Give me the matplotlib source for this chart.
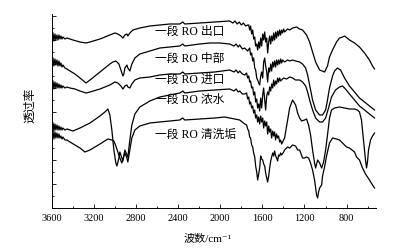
import matplotlib
matplotlib.use("Agg")
import matplotlib.pyplot as plt
from matplotlib.ticker import MultipleLocator

# FTIR spectra of RO membrane fouling, transmittance in arbitrary units (stacked)
wn_outlet = [3591, 3582, 3572, 3563, 3553, 3543, 3534, 3524, 3515, 3505, 3496, 3477, 3458, 3429, 3401,
             3334, 3277, 3239, 3144, 3050, 3002, 2974, 2945, 2926, 2907, 2888, 2879, 2860, 2831, 2765,
             2670, 2575, 2480, 2385, 2357, 2338, 2195, 2053, 1911, 1880, 1860, 1840, 1820, 1800, 1780,
             1760, 1740, 1730, 1721, 1712, 1702, 1692, 1683, 1673, 1664, 1654, 1645, 1635, 1626, 1616,
             1607, 1597, 1588, 1578, 1569, 1559, 1550, 1540, 1531, 1521, 1512, 1502, 1493, 1484, 1474,
             1465, 1455, 1446, 1436, 1427, 1417, 1408, 1398, 1389, 1360, 1341, 1313, 1275, 1246, 1218,
             1180, 1151, 1123, 1094, 1056, 1009, 981, 962, 933, 895, 867, 838, 819, 772, 724, 677, 629,
             582, 553, 534]
t_outlet = [175, 167, 174, 168, 173, 168, 173, 169, 172, 169, 171, 169, 170, 169, 168,
            166, 165, 166, 169, 173, 175, 174, 172, 170, 173, 174, 172, 175, 178, 180,
            182, 183, 184, 184, 186, 184, 185, 186, 187, 185, 187, 184, 186, 183, 185,
            182, 183, 183, 178, 182, 174, 178, 169, 171, 162, 164, 158, 166, 160, 170,
            162, 174, 168, 176, 166, 170, 155, 166, 172, 164, 172, 167, 175, 168, 176,
            170, 177, 172, 178, 173, 178, 175, 179, 176, 179, 178, 180, 181, 179, 178,
            173, 166, 156, 146, 138, 136, 142, 151, 158, 166, 170, 171, 172, 168, 165, 161, 155,
            148, 142, 139]

wn_middle = [3591, 3582, 3572, 3563, 3553, 3543, 3534, 3524, 3515, 3505, 3496, 3477, 3458, 3429, 3382,
             3334, 3277, 3239, 3144, 3050, 3021, 2993, 2964, 2945, 2926, 2917, 2907, 2888, 2879, 2860,
             2841, 2812, 2765, 2670, 2575, 2480, 2385, 2357, 2338, 2195, 2100, 2006, 1911, 1870, 1850,
             1830, 1816, 1790, 1768, 1740, 1721, 1712, 1702, 1692, 1683, 1673, 1664, 1654, 1645, 1635,
             1626, 1616, 1607, 1597, 1588, 1578, 1569, 1559, 1550, 1540, 1531, 1521, 1512, 1502, 1493,
             1484, 1474, 1465, 1455, 1446, 1436, 1427, 1417, 1408, 1389, 1360, 1341, 1313, 1284, 1246,
             1218, 1189, 1170, 1151, 1123, 1094, 1056, 1028, 999, 981, 962, 933, 914, 886, 857, 819,
             772, 724, 677, 629, 582, 534]
t_middle = [150, 142, 149, 143, 148, 142, 147, 142, 145, 141, 143, 140, 139, 137, 134,
            130, 125, 128, 136, 144, 146, 147, 144, 138, 132, 134, 140, 143, 140, 137,
            144, 150, 154, 157, 160, 161, 162, 164, 162, 164, 165, 165, 164, 162, 164,
            161, 163, 159, 160, 157, 160, 153, 155, 147, 150, 140, 138, 130, 128, 125,
            123, 132, 136, 130, 146, 150, 142, 136, 126, 140, 136, 144, 137, 146, 141,
            147, 141, 148, 143, 148, 144, 149, 145, 148, 146, 148, 147, 148, 147, 146,
            144, 140, 133, 123, 108, 98, 93, 93, 98, 108, 120, 132, 137, 140, 138, 130,
            122, 116, 110, 106, 102, 98]

wn_inlet = [3591, 3582, 3572, 3563, 3553, 3543, 3534, 3524, 3515, 3505, 3496, 3477, 3458, 3429, 3382,
            3334, 3277, 3239, 3144, 3050, 3002, 2974, 2945, 2926, 2907, 2888, 2879, 2860, 2841, 2812,
            2765, 2670, 2575, 2480, 2385, 2357, 2338, 2195, 2053, 1911, 1870, 1850, 1830, 1816, 1790,
            1768, 1750, 1740, 1730, 1721, 1712, 1702, 1692, 1683, 1673, 1664, 1654, 1645, 1635, 1626,
            1616, 1607, 1597, 1588, 1578, 1569, 1559, 1550, 1540, 1531, 1521, 1512, 1502, 1493, 1484,
            1474, 1465, 1455, 1446, 1436, 1427, 1398, 1370, 1341, 1313, 1284, 1246, 1218, 1189, 1170,
            1151, 1123, 1094, 1056, 1028, 999, 971, 943, 905, 867, 838, 810, 772, 724, 677, 629, 582, 534]
t_inlet = [127, 119, 126, 120, 125, 120, 124, 120, 123, 120, 122, 120, 121, 120, 119,
           117, 115, 116, 119, 123, 126, 125, 122, 119, 122, 123, 121, 120, 124, 128,
           130, 131, 133, 134, 134, 136, 134, 135, 136, 138, 136, 138, 135, 137, 134,
           133, 135, 130, 132, 126, 127, 120, 121, 113, 116, 106, 109, 100, 104, 97,
           110, 100, 113, 120, 108, 98, 112, 116, 113, 121, 117, 124, 120, 128, 122,
           127, 124, 130, 126, 130, 127, 130, 129, 131, 130, 128, 128, 126, 122, 116,
           108, 98, 90, 86, 86, 90, 100, 111, 118, 121, 122, 119, 114, 108, 102, 98, 94, 90]

wn_brine = [3591, 3582, 3572, 3563, 3553, 3543, 3534, 3524, 3515, 3505, 3496, 3477, 3458, 3429, 3401,
            3334, 3239, 3144, 3097, 3069, 3050, 3031, 3012, 2993, 2983, 2964, 2955, 2936, 2926, 2907,
            2888, 2879, 2860, 2841, 2812, 2765, 2670, 2575, 2480, 2385, 2357, 2338, 2195, 2053, 1911,
            1870, 1850, 1830, 1816, 1790, 1768, 1750, 1740, 1730, 1721, 1712, 1702, 1692, 1683, 1673,
            1664, 1654, 1645, 1635, 1626, 1616, 1607, 1597, 1588, 1578, 1569, 1559, 1550, 1540, 1531,
            1521, 1512, 1502, 1493, 1484, 1474, 1465, 1455, 1446, 1436, 1427, 1417, 1389, 1360, 1341,
            1313, 1284, 1265, 1246, 1227, 1199, 1180, 1161, 1142, 1123, 1104, 1094, 1075, 1056, 1037,
            1018, 999, 981, 962, 943, 914, 867, 819, 772, 724, 696, 677, 658, 639, 620, 610, 601, 591,
            572, 553, 534]
t_brine = [85, 77, 84, 78, 83, 78, 82, 78, 81, 78, 80, 78, 79, 78, 77,
           80, 85, 92, 96, 99, 93, 78, 58, 45, 42, 50, 56, 50, 47, 58,
           53, 51, 68, 83, 94, 101, 107, 111, 113, 115, 117, 115, 117, 118, 119,
           117, 119, 116, 117, 114, 114, 115, 109, 111, 104, 106, 100, 102, 95, 98,
           90, 93, 86, 91, 84, 92, 86, 90, 80, 87, 82, 86, 74, 82, 76,
           79, 70, 77, 72, 76, 68, 74, 70, 72, 66, 68, 64, 70, 88, 100,
           108, 103, 95, 90, 87, 88, 89, 83, 73, 58, 45, 40, 48, 45, 40,
           46, 58, 73, 90, 98, 100, 101, 100, 99, 99, 98, 96, 88, 68, 48, 40, 46, 58,
           68, 72, 75]

wn_scale = [3591, 3582, 3572, 3563, 3553, 3543, 3534, 3524, 3515, 3505, 3496, 3477, 3458, 3429, 3382,
            3334, 3287, 3239, 3144, 3069, 3031, 3012, 2993, 2974, 2955, 2936, 2917, 2907, 2888, 2879,
            2860, 2841, 2812, 2765, 2670, 2575, 2480, 2385, 2357, 2338, 2195, 2053, 1958, 1863, 1816,
            1768, 1750, 1740, 1730, 1721, 1712, 1702, 1692, 1683, 1673, 1664, 1654, 1645, 1635, 1626,
            1616, 1607, 1597, 1588, 1578, 1569, 1559, 1550, 1540, 1531, 1521, 1512, 1502, 1493, 1484,
            1474, 1465, 1455, 1446, 1436, 1427, 1417, 1398, 1389, 1360, 1341, 1313, 1284, 1265, 1246,
            1218, 1199, 1180, 1161, 1142, 1123, 1104, 1085, 1075, 1066, 1056, 1037, 1028, 1009, 990,
            962, 933, 895, 867, 838, 800, 772, 724, 705, 677, 648, 620, 582, 553, 534]
t_scale = [77, 69, 76, 70, 75, 70, 74, 70, 72, 69, 71, 68, 68, 66, 63,
           60, 56, 58, 64, 69, 68, 67, 62, 56, 50, 45, 52, 55, 50, 46,
           58, 70, 78, 82, 85, 86, 87, 88, 90, 88, 89, 90, 91, 89, 88,
           84, 83, 79, 77, 71, 70, 63, 61, 55, 51, 42, 36, 28, 34, 40,
           52, 49, 48, 44, 42, 35, 30, 26, 32, 40, 47, 51, 55, 52, 57,
           52, 50, 47, 53, 52, 55, 53, 56, 58, 61, 60, 63, 62, 58, 58,
           50, 50, 51, 50, 45, 38, 28, 13, 10, 16, 20, 23, 32, 41, 52,
           65, 70, 69, 68, 65, 61, 60, 56, 51, 48, 40, 34, 28, 23, 20]

curves = [(wn_outlet, t_outlet), (wn_middle, t_middle), (wn_inlet, t_inlet),
          (wn_brine, t_brine), (wn_scale, t_scale)]
names = ["一段 RO 出口", "一段 RO 中部", "一段 RO 进口", "一段 RO 浓水", "一段 RO 清洗垢"]
label_y = [176, 149, 128, 108, 73]

FONT = ["Liberation Serif", "Noto Sans CJK SC", "DejaVu Serif"]

fig = plt.figure(figsize=(4.13, 2.49), dpi=100)
ax = fig.add_axes([52 / 413, 41 / 249, 324 / 413, 194 / 249])

for wn, t in curves:
    ax.plot(wn, t, color="black", lw=0.9)

for name, y in zip(names, label_y):
    ax.text(2622, y, name, family=FONT, fontsize=8.5, va="center", ha="left")

ax.set_xlim(3600, 520)
ax.set_ylim(0, 194)
ax.xaxis.set_minor_locator(MultipleLocator(200))
ax.yaxis.set_major_locator(MultipleLocator(24))
ax.yaxis.set_minor_locator(MultipleLocator(12))
ax.set_xticks(range(800, 3601, 400))
ax.set_xticklabels([str(v) for v in range(800, 3601, 400)], family=FONT, fontsize=7.5)
ax.set_yticklabels([])
ax.tick_params(which="both", direction="in", width=0.6)
ax.tick_params(which="major", length=3)
ax.tick_params(which="minor", length=1.5)
ax.tick_params(axis="x", pad=4)
ax.spines["top"].set_visible(False)
ax.spines["right"].set_visible(False)
for s in ("left", "bottom"):
    ax.spines[s].set_linewidth(0.7)

ax.set_xlabel("波数/cm⁻¹", family=FONT, fontsize=8)
ax.xaxis.set_label_coords(0.48, -0.13)
ax.set_ylabel("透过率", family=FONT, fontsize=8.5)
ax.yaxis.set_label_coords(-0.05, 0.53)

fig.savefig("out.png", dpi=100)
